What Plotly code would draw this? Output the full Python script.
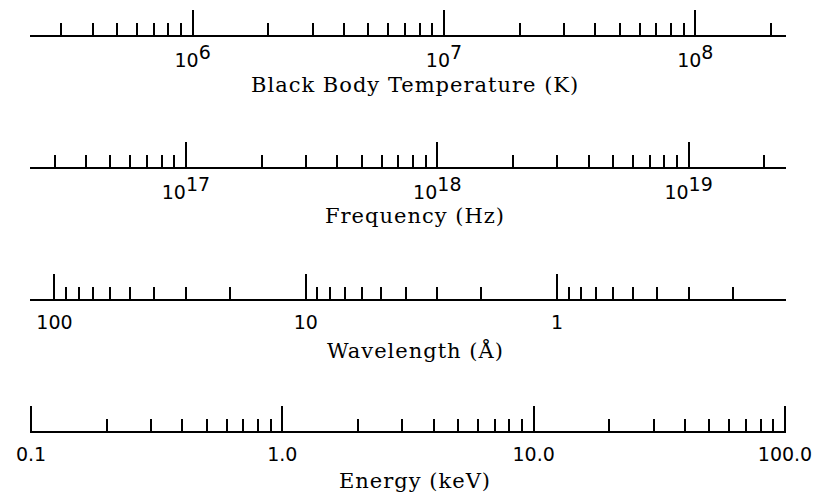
import numpy as np
import plotly.graph_objects as go

# Energy scale (keV)
energy_major = [0.1, 1.0, 10.0, 100.0]
energy_labels = ["0.1", "1.0", "10.0", "100.0"]
energy_minor = [m * d for d in (0.1, 1.0, 10.0) for m in range(2, 10)]

# Wavelength scale (Angstrom)
wave_major = [100, 10, 1]
wave_labels = ["100", "10", "1"]
wave_minor = [m * d for d in (10, 1, 0.1) for m in range(2, 10)]

# Frequency scale (Hz)
freq_major = [1e17, 1e18, 1e19]
freq_labels = ["17", "18", "19"]
freq_minor = [m * 1e16 for m in range(3, 10)] + [m * d for d in (1e17, 1e18) for m in range(2, 10)] + [2e19]

# Black body temperature scale (K)
temp_major = [1e6, 1e7, 1e8]
temp_labels = ["6", "7", "8"]
temp_minor = [m * 1e5 for m in range(3, 10)] + [m * d for d in (1e6, 1e7) for m in range(2, 10)] + [2e8]

titles = ["Black Body Temperature (K)", "Frequency (Hz)", "Wavelength (Å)", "Energy (keV)"]

E_MIN, E_MAX = 0.1, 100.0
H_KEV_S = 4.135667e-18      # Planck constant, keV s
HC_KEV_A = 12.3984          # hc, keV Angstrom
T_LEFT_LOG = 5.357          # log10 T at the left end of the temperature bar
EPS = 0.004                 # keeps the end ticks inside the axis range

W, H = 816, 494
ML, MR = 30, 30
TICK_FONT = dict(family="DejaVu Sans", size=19, color="black")
TITLE_FONT = dict(family="DejaVu Serif", size=21, color="black")


def power_label(exp):
    return "10<sup><span style='font-size:19px'>%s</span></sup>" % exp


def spaced(text):
    return "<span style='letter-spacing:1px'>%s</span>" % text


def axis_style(major, text, minor, rng, standoff):
    return dict(
        type="log",
        range=rng,
        domain=[0, 1],
        showline=True,
        linecolor="black",
        linewidth=2,
        showgrid=False,
        zeroline=False,
        ticks="inside",
        ticklen=25,
        tickwidth=2,
        tickcolor="black",
        tickmode="array",
        tickvals=major,
        ticktext=text,
        tickfont=TICK_FONT,
        ticklabelstandoff=standoff,
        minor=dict(tickmode="array", tickvals=minor, ticks="inside",
                   ticklen=12, tickwidth=2, tickcolor="black", showgrid=False),
        fixedrange=True,
    )


# axis line positions and title centres, in pixels from the top
line_y = [35, 166.5, 299, 431]
title_y = [85, 216, 350, 481]

fig = go.Figure()
axes_major = [temp_major, freq_major, wave_major, energy_major]
for i, major in enumerate(axes_major):
    suffix = "" if i == 0 else str(i + 1)
    fig.add_trace(go.Scatter(x=major, y=[0] * len(major), mode="markers",
                             marker=dict(opacity=0, size=1), hoverinfo="skip",
                             showlegend=False, xaxis="x" + suffix, yaxis="y" + suffix))

layout = dict(
    width=W, height=H,
    margin=dict(l=ML, r=MR, t=0, b=0),
    paper_bgcolor="white", plot_bgcolor="white",
    showlegend=False,
)

temp_rng = [T_LEFT_LOG - EPS, T_LEFT_LOG + np.log10(E_MAX / E_MIN) + EPS]
freq_rng = [np.log10(E_MIN / H_KEV_S) - EPS, np.log10(E_MAX / H_KEV_S) + EPS]
wave_rng = [np.log10(HC_KEV_A / E_MIN) + EPS, np.log10(HC_KEV_A / E_MAX) - EPS]
ener_rng = [np.log10(E_MIN) - EPS, np.log10(E_MAX) + EPS]

specs = [
    (temp_major, [power_label(e) for e in temp_labels], temp_minor, temp_rng, 7),
    (freq_major, [power_label(e) for e in freq_labels], freq_minor, freq_rng, 8),
    (wave_major, wave_labels, wave_minor, wave_rng, 5),
    (energy_major, energy_labels, energy_minor, ener_rng, 5),
]

annotations = []
for i, (spec, ly, ty, title) in enumerate(zip(specs, line_y, title_y, titles)):
    suffix = "" if i == 0 else str(i + 1)
    xa = axis_style(*spec)
    xa["anchor"] = "y" + suffix
    layout["xaxis" + suffix] = xa
    bottom = 1 - ly / H
    layout["yaxis" + suffix] = dict(domain=[bottom, bottom + 0.04], visible=False,
                                    range=[-1, 1], anchor="x" + suffix, fixedrange=True)
    annotations.append(dict(text=spaced(title), font=TITLE_FONT, showarrow=False,
                            xref="paper", yref="paper", x=0.5, y=1 - ty / H,
                            xanchor="center", yanchor="middle", xshift=7))

layout["annotations"] = annotations
fig.update_layout(**layout)
fig.write_html("out.html")
